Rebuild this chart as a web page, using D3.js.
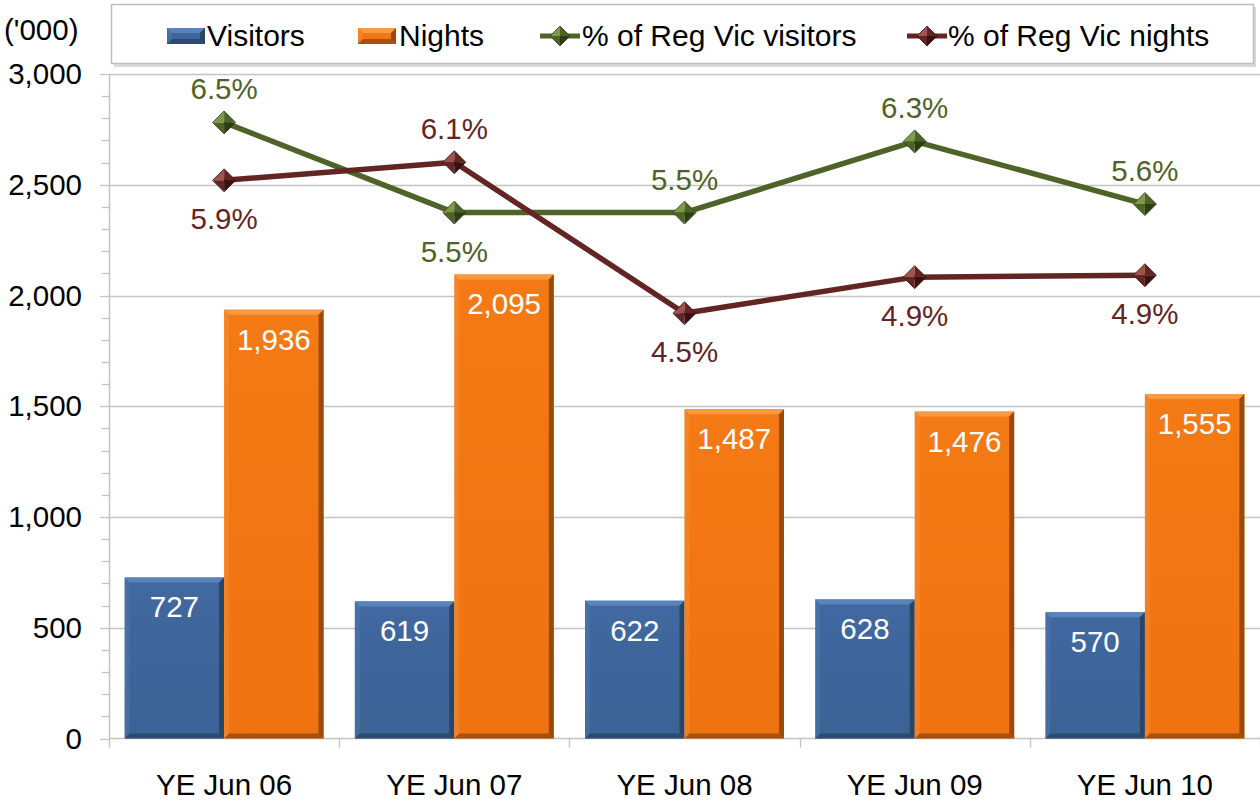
<!DOCTYPE html>
<html><head><meta charset="utf-8">
<script src="https://cdn.jsdelivr.net/npm/d3@7"></script>
<style>
html,body{margin:0;padding:0;background:#fff;}
svg{display:block;font-family:"Liberation Sans",Arial,sans-serif;}
</style></head>
<body>
<svg id="chart" width="1260" height="801"></svg>
<script>
const categories = ["YE Jun 06","YE Jun 07","YE Jun 08","YE Jun 09","YE Jun 10"];
const visitors = [727, 619, 622, 628, 570];
const nights = [1936, 2095, 1487, 1476, 1555];
const visitorsPct = [6.49, 5.54, 5.54, 6.29, 5.63];
const nightsPct = [5.88, 6.07, 4.48, 4.86, 4.88];
const yTicks = [0, 500, 1000, 1500, 2000, 2500, 3000];
const yMinorTicks = d3.range(0, 3001, 100);
const visitorsPctLabelPos = ["above","below","above","above","above"];
const nightsPctLabelPos = ["below","above","below","below","below"];

const svg = d3.select("#chart");
const plot = {left: 109, right: 1260, top: 74, bottom: 738.5};

const x = d3.scaleBand().domain(categories).range([plot.left, plot.right]).paddingInner(0).paddingOuter(0);
const xs = d3.scaleBand().domain(["Visitors","Nights"]).range([0, x.bandwidth()]).paddingInner(0).paddingOuter(0.157);
const y = d3.scaleLinear().domain([0, 3000]).range([plot.bottom, plot.top]);
const y2 = d3.scaleLinear().domain([0, 7]).range([plot.bottom, plot.top]);

const fmt = d3.format(",");
const fs = 29.5;

const defs = svg.append("defs");
function linGrad(id, stops, x1, y1, x2, y2_) {
  const g = defs.append("linearGradient").attr("id", id)
    .attr("x1", x1).attr("y1", y1).attr("x2", x2).attr("y2", y2_);
  stops.forEach(s => g.append("stop").attr("offset", s[0]).attr("stop-color", s[1]));
}
linGrad("blueFill", [["0%","#4168a0"],["100%","#3c6395"]], "0","0","0","1");
linGrad("orangeFill", [["0%","#f47a15"],["100%","#ef7311"]], "0","0","0","1");

// gridlines
svg.append("g").selectAll("line").data(yTicks.filter(d => d > 0)).join("line")
  .attr("x1", plot.left).attr("x2", plot.right)
  .attr("y1", d => Math.round(y(d)) + 0.5).attr("y2", d => Math.round(y(d)) + 0.5)
  .attr("stroke", "#c4c4c4").attr("stroke-width", 1.3);

// y axis
svg.append("line").attr("x1", plot.left + 0.5).attr("x2", plot.left + 0.5)
  .attr("y1", plot.top).attr("y2", plot.bottom).attr("stroke", "#c4c4c4").attr("stroke-width", 1.5);
svg.append("g").selectAll("line").data(yMinorTicks).join("line")
  .attr("x1", d => (d % 500 === 0) ? plot.left - 9 : plot.left - 7).attr("x2", plot.left)
  .attr("y1", d => Math.round(y(d)) + 0.5).attr("y2", d => Math.round(y(d)) + 0.5)
  .attr("stroke", "#c4c4c4").attr("stroke-width", 1.3);

svg.append("g").selectAll("text").data(yTicks).join("text")
  .attr("x", 82).attr("y", d => y(d) + 10)
  .attr("text-anchor", "end").attr("font-size", fs).attr("fill", "#000")
  .text(d => fmt(d));

svg.append("text").attr("x", 4).attr("y", 40).attr("font-size", fs).attr("fill", "#000").text("('000)");

// x axis
svg.append("line").attr("x1", plot.left).attr("x2", plot.right)
  .attr("y1", plot.bottom).attr("y2", plot.bottom).attr("stroke", "#c4c4c4").attr("stroke-width", 1.5);
const boundaries = categories.map(c => x(c)).concat([plot.right]);
svg.append("g").selectAll("line").data(boundaries).join("line")
  .attr("x1", d => Math.round(d) + 0.5).attr("x2", d => Math.round(d) + 0.5)
  .attr("y1", plot.bottom).attr("y2", plot.bottom + 9)
  .attr("stroke", "#c4c4c4").attr("stroke-width", 1.3);

svg.append("g").selectAll("text").data(categories).join("text")
  .attr("x", d => x(d) + x.bandwidth() / 2).attr("y", 795)
  .attr("text-anchor", "middle").attr("font-size", fs).attr("fill", "#000")
  .text(d => d);

function bevelBar(g, bx, by, bw, bh, base, light, dark) {
  const b = 5;
  g.append("rect").attr("x", bx).attr("y", by).attr("width", bw).attr("height", bh).attr("fill", base);
  g.append("path").attr("d", `M${bx},${by}L${bx+bw},${by}L${bx+bw-b},${by+b}L${bx+b},${by+b}Z`).attr("fill", light);
  g.append("path").attr("d", `M${bx},${by}L${bx+b},${by+b}L${bx+b},${by+bh-b}L${bx},${by+bh}Z`).attr("fill", light).attr("opacity", 0.3);
  g.append("path").attr("d", `M${bx+bw},${by}L${bx+bw},${by+bh}L${bx+bw-b},${by+bh-b}L${bx+bw-b},${by+b}Z`).attr("fill", dark).attr("opacity", 0.85);
  g.append("path").attr("d", `M${bx},${by+bh}L${bx+bw},${by+bh}L${bx+bw-b},${by+bh-b}L${bx+b},${by+bh-b}Z`).attr("fill", dark).attr("opacity", 0.7);
}
const barsG = svg.append("g");
categories.forEach((c, i) => {
  const bw = xs.bandwidth();
  const vx = x(c) + xs("Visitors"), vy = y(visitors[i]);
  bevelBar(barsG, vx, vy, bw, y(0) - vy, "url(#blueFill)", "#5a83ba", "#26405f");
  const nx = x(c) + xs("Nights"), ny = y(nights[i]);
  bevelBar(barsG, nx, ny, bw, y(0) - ny, "url(#orangeFill)", "#f89a45", "#8a4309");
});

const labG = svg.append("g").attr("font-size", fs).attr("fill", "#fff").attr("text-anchor", "middle");
categories.forEach((c, i) => {
  const bw = xs.bandwidth();
  labG.append("text").attr("x", x(c) + xs("Visitors") + bw / 2).attr("y", y(visitors[i]) + 40).text(fmt(visitors[i]));
  labG.append("text").attr("x", x(c) + xs("Nights") + bw / 2).attr("y", y(nights[i]) + 40).text(fmt(nights[i]));
});

const cx = c => x(c) + x.bandwidth() / 2;
function diamond(g, r, color, light, dark) {
  g.append("path").attr("d", `M0,${-r}L${-r},0L0,0Z`).attr("fill", light);
  g.append("path").attr("d", `M0,${-r}L${r},0L0,0Z`).attr("fill", color);
  g.append("path").attr("d", `M${-r},0L0,${r}L0,0Z`).attr("fill", color);
  g.append("path").attr("d", `M${r},0L0,${r}L0,0Z`).attr("fill", dark);
  g.append("path").attr("d", `M0,${-r}L${r},0L0,${r}L${-r},0Z`).attr("fill", "none").attr("stroke", dark).attr("stroke-width", 0.8);
}
function drawSeries(vals, color, light, dark, positions) {
  const g = svg.append("g");
  const line = d3.line().x((d, i) => cx(categories[i])).y(d => y2(d));
  g.append("path").attr("d", line(vals)).attr("fill", "none").attr("stroke", color).attr("stroke-width", 5.5).attr("stroke-linejoin", "round");
  vals.forEach((v, i) => {
    const m = g.append("g").attr("transform", `translate(${cx(categories[i])},${y2(v)})`);
    diamond(m, 11.5, color, light, dark);
  });
  g.append("g").selectAll("text").data(vals).join("text")
    .attr("x", (d, i) => cx(categories[i]))
    .attr("y", (d, i) => positions[i] === "above" ? y2(d) - 23 : y2(d) + 49)
    .attr("text-anchor", "middle").attr("font-size", fs).attr("fill", color)
    .text(d => d.toFixed(1) + "%");
}
drawSeries(visitorsPct, "#4f6228", "#7d9a4a", "#2e3c15", visitorsPctLabelPos);
drawSeries(nightsPct, "#632523", "#a0524e", "#3a1110", nightsPctLabelPos);

// legend
const lg = svg.append("g");
lg.append("rect").attr("x", 114).attr("y", 7).attr("width", 1142).attr("height", 60).attr("fill", "#d9d9d9");
lg.append("rect").attr("x", 111.5).attr("y", 4.5).attr("width", 1142).attr("height", 59).attr("fill", "#fff").attr("stroke", "#bfbfbf").attr("stroke-width", 1.5);
const legendItems = [
  {label: "Visitors", type: "bar", base: "url(#blueFill)", light: "#5a83ba", dark: "#26405f", x: 167, tx: 207},
  {label: "Nights", type: "bar", base: "url(#orangeFill)", light: "#f89a45", dark: "#8a4309", x: 358, tx: 399},
  {label: "% of Reg Vic visitors", type: "line", color: "#4f6228", light: "#7d9a4a", dark: "#2e3c15", x: 540, tx: 582},
  {label: "% of Reg Vic nights", type: "line", color: "#632523", light: "#a0524e", dark: "#3a1110", x: 907, tx: 948}
];
legendItems.forEach(it => {
  if (it.type === "bar") {
    bevelBar(lg.append("g"), it.x, 28, 38, 16, it.base, it.light, it.dark);
  } else {
    lg.append("line").attr("x1", it.x).attr("x2", it.x + 40).attr("y1", 36).attr("y2", 36).attr("stroke", it.color).attr("stroke-width", 5);
    diamond(lg.append("g").attr("transform", `translate(${it.x + 20},36)`), 10, it.color, it.light, it.dark);
  }
  lg.append("text").attr("x", it.tx).attr("y", 46).attr("font-size", 30).attr("fill", "#000").text(it.label);
});
</script>
</body></html>
